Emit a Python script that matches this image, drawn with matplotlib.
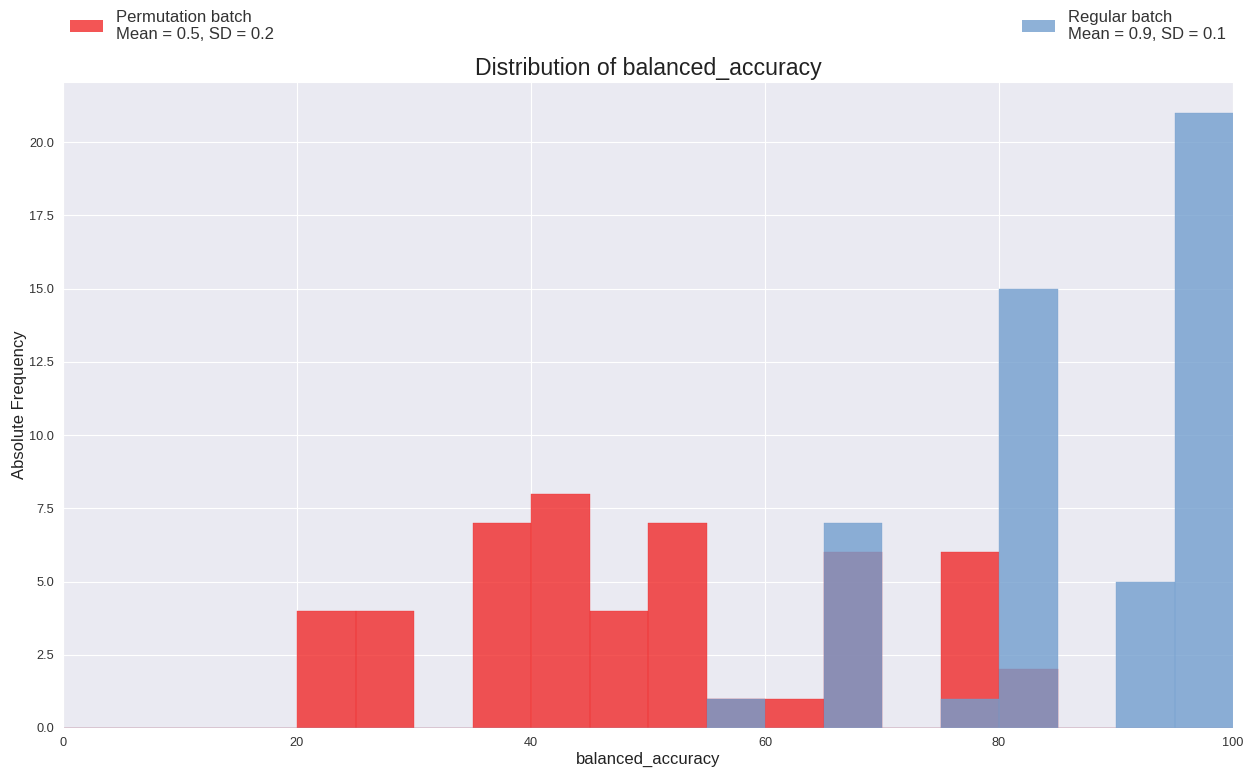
import numpy as np
import matplotlib
matplotlib.use("Agg")
import matplotlib.pyplot as plt
import seaborn as sns
from matplotlib.patches import Patch

bin_edges = list(range(0, 105, 5))
perm_counts = [0, 0, 0, 0, 4, 4, 0, 7, 8, 4, 7, 1, 1, 6, 0, 6, 2, 0, 0, 0]
reg_counts = [0, 0, 0, 0, 0, 0, 0, 0, 0, 0, 0, 1, 0, 7, 0, 1, 15, 0, 5, 21]
perm_label = "Permutation batch\nMean = 0.5, SD = 0.2"
reg_label = "Regular batch\nMean = 0.9, SD = 0.1"
title = "Distribution of balanced_accuracy"
xlabel = "balanced_accuracy"
ylabel = "Absolute Frequency"

sns.set_style("darkgrid")
plt.rcParams['font.family'] = ['Liberation Sans', 'DejaVu Sans']

red = (240/255, 42/255, 42/255)
blue = (114/255, 158/255, 206/255)

fig = plt.figure(figsize=(12.55, 7.71), dpi=100)
ax = fig.add_axes([63/1255, 43/771, 1170/1255, 646/771])

lefts = bin_edges[:-1]
ax.hist(lefts, bins=bin_edges, weights=perm_counts, color=red, alpha=0.8,
        edgecolor=red, linewidth=0.3)
ax.hist(lefts, bins=bin_edges, weights=reg_counts, color=blue, alpha=0.8,
        edgecolor=blue, linewidth=0.3)

ax.set_xlim(0, 100)
ax.set_ylim(0, max(reg_counts) * 1.05)
ax.set_yticks(np.arange(0, 21, 2.5))
ax.set_xticks([0, 20, 40, 60, 80, 100])
ax.tick_params(axis='both', labelsize=9.2, colors='#333333', pad=3)
ax.set_title(title, fontsize=16.7, color='#222222', pad=5)
ax.set_xlabel(xlabel, fontsize=12, color='#222222', labelpad=2)
ax.set_ylabel(ylabel, fontsize=12, color='#222222', labelpad=1.5)

h1 = Patch(facecolor=red, alpha=0.8, edgecolor='none')
h2 = Patch(facecolor=blue, alpha=0.8, edgecolor='none')
leg1 = fig.legend([h1], [perm_label], loc='upper left', bbox_to_anchor=(63/1255, 1 - 3/771),
                  frameon=False, fontsize=12, borderaxespad=0)
leg2 = fig.legend([h2], [reg_label], loc='upper right', bbox_to_anchor=(1233/1255, 1 - 3/771),
                  frameon=False, fontsize=12, borderaxespad=0)
for lg in (leg1, leg2):
    for t in lg.get_texts():
        t.set_color('#333333')

fig.savefig("out.png", dpi=100)
